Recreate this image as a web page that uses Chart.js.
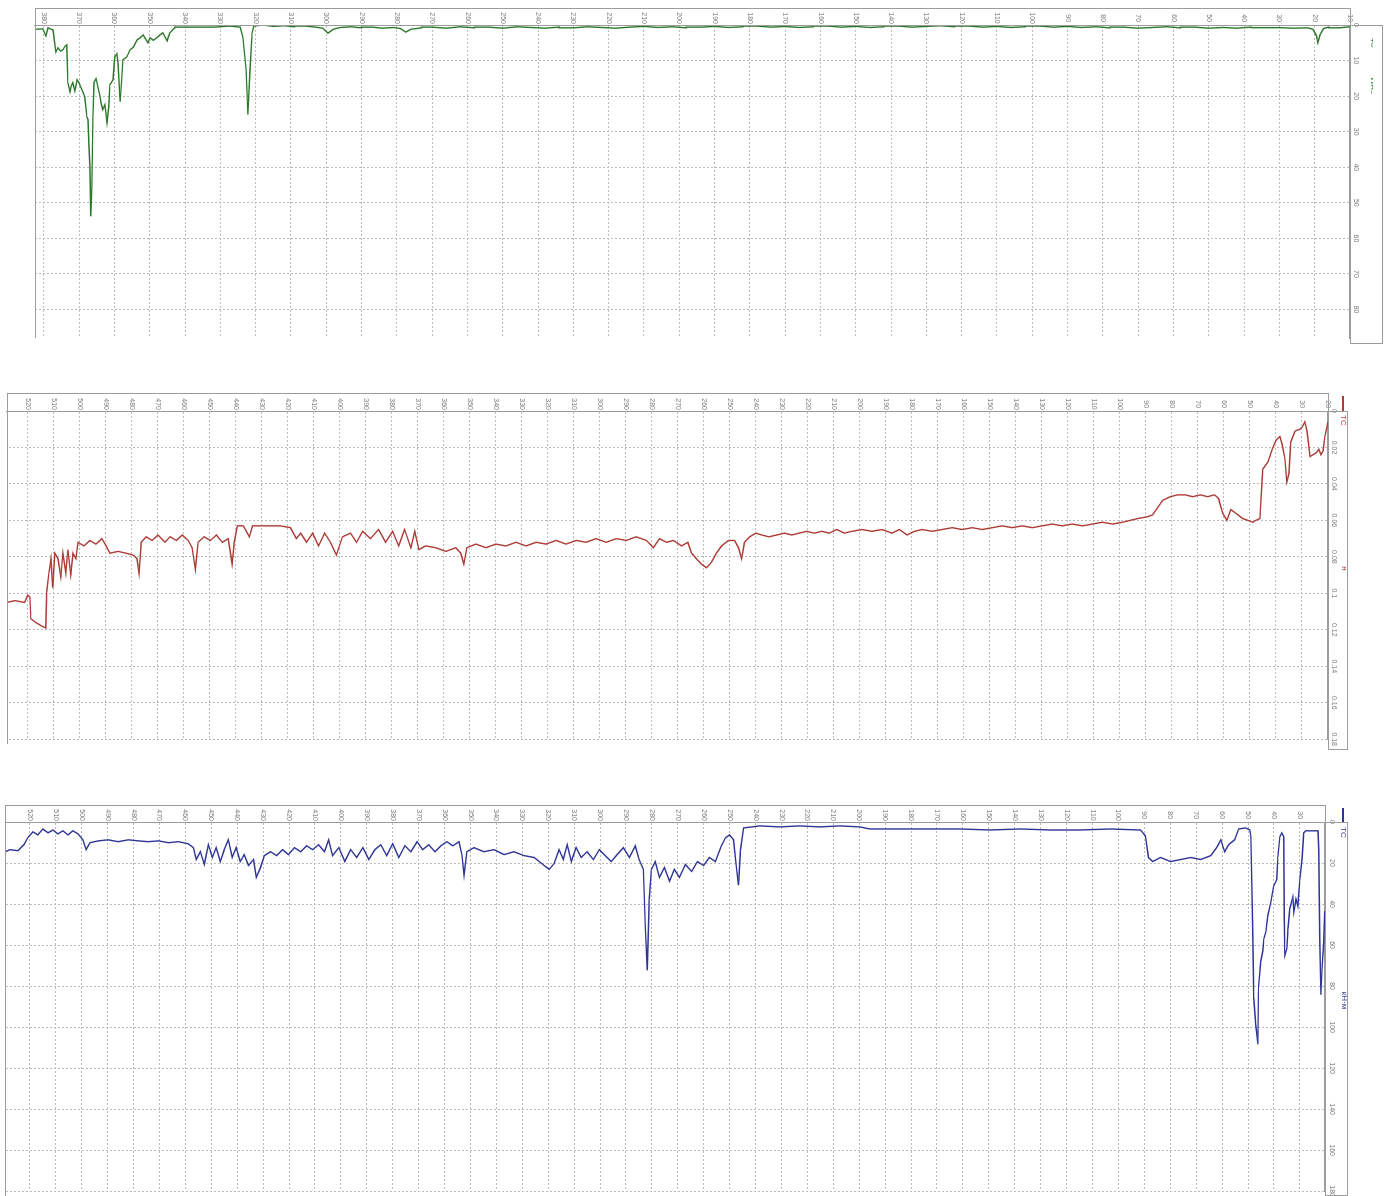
<!DOCTYPE html>
<html>
<head>
<meta charset="utf-8">
<title>Каротажные диаграммы</title>
<script src="https://cdn.jsdelivr.net/npm/chart.js@4.4.1/dist/chart.umd.min.js"></script>
<style>
  html, body { margin: 0; padding: 0; background: #fff; }
  body { width: 1385px; height: 1196px; position: relative; overflow: hidden; }
  .track { position: absolute; overflow: visible; }
  .rot { position: absolute; left: 0; top: 0; transform-origin: 0 0; }
  .frame { position: absolute; border: 1px solid #9c9c9c; box-sizing: border-box; pointer-events: none; }
  .vline { position: absolute; width: 1px; background: #9c9c9c; pointer-events: none; }
</style>
</head>
<body>
<script>
// Track 1 (ТК, МПа): depth in metres and reading
const tkDepth = [382.5, 380.3, 379.4, 378.8, 377.4, 376.6, 376.0, 375.3, 374.6, 374.0, 373.5, 373.2, 372.6, 372.2, 371.8, 371.2, 370.6, 370.1, 369.2, 368.4, 367.8, 367.5, 367.2, 366.9, 366.7, 366.4, 366.1, 365.8, 365.2, 364.7, 364.2, 363.8, 363.3, 362.7, 362.1, 361.6, 361.3, 360.4, 359.9, 359.3, 359.0, 358.4, 357.9, 357.6, 356.5, 355.6, 354.6, 353.6, 352.7, 351.9, 350.5, 349.9, 349.0, 348.0, 347.1, 346.3, 345.1, 344.3, 342.9, 340.6, 336.6, 332.1, 327.3, 324.4, 323.6, 322.7, 322.2, 321.6, 321.0, 320.5, 317.9,
  315, 312, 309, 306, 303, 301, 299.5, 298, 296, 293, 290, 287, 284, 281, 279, 277.5, 276, 273, 270, 266, 262, 258, 254, 250, 246, 242, 238, 234, 230, 226, 222, 218, 214, 210, 206, 202, 198, 194, 190, 186, 182, 178, 174, 170, 166, 162, 158, 154, 150, 146, 142, 138, 134, 130, 126, 122, 118, 114, 110, 106, 102, 98, 94, 90, 86, 82, 78, 74, 70, 66, 62, 58, 54, 50, 46, 42, 38, 34, 30, 26, 22, 20.5, 19.5, 19.1, 18.5, 17.5, 16, 13, 10];
const tkValue = [1.2, 1.1, 3.1, 0.8, 1.4, 7.6, 6.4, 7.3, 7.0, 6.0, 5.6, 16.2, 18.8, 17.0, 16.2, 18.5, 15.4, 16.2, 18.2, 20.2, 25.8, 26.6, 34.2, 40.6, 53.8, 45.4, 26.6, 16.2, 15.1, 17.4, 19.5, 21.8, 23.8, 22.4, 27.5, 23.0, 16.8, 15.4, 9.0, 8.1, 10.6, 21.6, 14.6, 9.8, 9.0, 7.0, 6.2, 4.2, 3.6, 2.8, 5.0, 3.6, 4.3, 3.6, 2.8, 2.2, 4.5, 2.2, 0.8, 0.6, 0.6, 0.6, 0.3, 0.6, 3.4, 12.6, 25.2, 12.6, 2.2, 0.3, 0.0,
  0.4, 0.2, 0.5, 0.3, 0.6, 0.9, 2.3, 1.2, 0.7, 0.5, 0.8, 0.6, 0.9, 0.7, 1.0, 2.0, 1.2, 0.8, 0.6, 0.9, 0.5, 0.8, 0.6, 0.9, 0.5, 0.7, 0.9, 0.6, 0.8, 0.5, 0.7, 0.9, 0.6, 0.4, 0.7, 0.5, 0.8, 0.6, 0.4, 0.7, 0.5, 0.3, 0.6, 0.4, 0.7, 0.5, 0.3, 0.6, 0.4, 0.7, 0.5, 0.3, 0.6, 0.4, 0.2, 0.5, 0.3, 0.6, 0.4, 0.7, 0.5, 0.3, 0.6, 0.4, 0.7, 0.5, 0.8, 0.6, 0.9, 0.7, 0.5, 0.8, 0.6, 0.9, 0.7, 0.9, 0.6, 0.8, 0.7, 0.9, 0.8, 1.2, 3.0, 5.0, 2.8, 1.0, 0.6, 0.8, 0.5];

// Track 2 (ТС): depth in metres and reading
const tsDepth = [528.0, 525.0, 521.2, 520.0, 519.2, 518.8, 516.9, 514.6, 513.1, 512.7, 511.9, 511.1, 510.4, 509.6, 508.4, 507.3, 506.5, 505.4, 504.6, 503.5, 502.6, 501.5, 500.7, 498.4, 496.1, 493.8, 491.5, 489.9, 488.4, 485.3, 482.2, 479.5, 478.0, 477.2, 476.4, 474.5, 472.2, 469.9, 467.2, 465.3, 462.9, 460.6, 458.3, 456.8, 455.6, 454.5, 452.2, 449.8, 447.5, 445.2, 442.9, 441.4, 440.6, 439.4, 437.1, 434.8, 433.6, 430.6, 426.7, 422.9, 419.0, 416.7, 415.1, 412.8, 410.5, 408.2, 405.9, 403.6, 401.3, 399.0, 395.9, 393.6, 391.2, 388.2, 385.1, 382.4, 379.7, 377.4, 375.1, 372.7, 371.2, 369.6, 367.0, 363.1, 359.2, 355.4, 353.5, 352.3, 351.2, 347.7, 343.8, 340.0, 336.1, 332.3, 328.4, 324.5, 320.7, 316.8, 313.0, 309.1, 305.3, 301.4, 297.6, 293.7, 289.9, 286.0, 282.1, 279.4, 277.1, 274.4, 271.7, 268.6, 266.2, 264.7, 262.9, 260.9, 259.0, 257.1, 255.2, 253.2, 250.5, 248.2, 246.7, 245.5, 244.4, 242.4, 240.0, 237.8, 235.0, 232.0, 229.0, 226.2, 223.4, 220.5, 217.5, 214.7, 211.8, 208.9, 206.0, 203.1, 199.2, 195.4, 191.5, 187.7, 184.8, 181.9, 179.0, 176.1, 172.2, 168.4, 164.5, 160.7, 156.8, 153.0, 149.1, 145.3, 141.4, 137.6, 133.7, 129.9, 126.0, 122.2, 118.3, 114.4, 110.5, 106.7, 102.8, 99.0, 96.1, 93.2, 89.4, 87.5, 83.6, 80.7, 77.8, 74.9, 72.0, 69.1, 66.3, 63.6, 62.1, 60.5, 58.9, 57.4, 55.5, 52.8, 50.8, 48.9, 47.8, 46.2, 45.1, 43.1, 41.2, 40.0, 38.5, 37.7, 36.6, 35.8, 35.0, 34.3, 32.7, 30.8, 30.0, 28.9, 28.1, 26.9, 25.8, 24.6, 23.5, 22.7, 21.9, 21.2, 20.0];
const tsValue = [0.105, 0.104, 0.105, 0.101, 0.102, 0.114, 0.116, 0.118, 0.119, 0.099, 0.089, 0.081, 0.097, 0.078, 0.081, 0.091, 0.078, 0.089, 0.076, 0.090, 0.078, 0.081, 0.072, 0.074, 0.071, 0.073, 0.070, 0.074, 0.078, 0.077, 0.078, 0.079, 0.081, 0.089, 0.072, 0.069, 0.071, 0.068, 0.072, 0.069, 0.071, 0.068, 0.071, 0.075, 0.087, 0.072, 0.069, 0.071, 0.068, 0.072, 0.070, 0.084, 0.072, 0.063, 0.063, 0.069, 0.063, 0.063, 0.063, 0.063, 0.064, 0.070, 0.067, 0.072, 0.067, 0.074, 0.067, 0.072, 0.079, 0.069, 0.067, 0.072, 0.066, 0.070, 0.065, 0.072, 0.066, 0.074, 0.065, 0.075, 0.066, 0.076, 0.074, 0.075, 0.077, 0.075, 0.078, 0.084, 0.075, 0.073, 0.075, 0.073, 0.074, 0.072, 0.074, 0.072, 0.073, 0.071, 0.073, 0.071, 0.072, 0.070, 0.072, 0.070, 0.071, 0.069, 0.071, 0.075, 0.070, 0.072, 0.071, 0.074, 0.072, 0.078, 0.081, 0.084, 0.086, 0.083, 0.078, 0.074, 0.071, 0.071, 0.075, 0.081, 0.072, 0.069, 0.067, 0.068, 0.069, 0.068, 0.067, 0.068, 0.067, 0.066, 0.067, 0.066, 0.067, 0.065, 0.067, 0.066, 0.065, 0.066, 0.065, 0.067, 0.065, 0.068, 0.066, 0.065, 0.066, 0.065, 0.064, 0.065, 0.064, 0.065, 0.064, 0.063, 0.064, 0.063, 0.064, 0.063, 0.062, 0.063, 0.062, 0.063, 0.062, 0.061, 0.062, 0.061, 0.060, 0.059, 0.058, 0.057, 0.049, 0.047, 0.046, 0.046, 0.047, 0.046, 0.047, 0.046, 0.048, 0.056, 0.060, 0.054, 0.056, 0.059, 0.060, 0.061, 0.060, 0.059, 0.032, 0.028, 0.020, 0.016, 0.014, 0.018, 0.026, 0.039, 0.034, 0.017, 0.011, 0.010, 0.009, 0.006, 0.011, 0.025, 0.024, 0.023, 0.021, 0.024, 0.022, 0.014, 0.006, 0.001];

// Track 3 (ТС, кН·м): depth in metres and reading
const tmDepth = [529.4, 527.7, 524.6, 522.3, 520.8, 518.8, 516.9, 515.0, 513.0, 511.1, 509.2, 507.2, 505.3, 503.4, 501.4, 499.5, 498.3, 496.8, 493.6, 489.8, 485.9, 482.0, 478.2, 474.3, 470.4, 466.6, 462.7, 458.9, 456.9, 455.8, 454.2, 452.7, 451.1, 449.6, 448.1, 446.5, 445.0, 443.4, 441.9, 440.4, 438.8, 437.3, 435.6, 433.7, 432.6, 431.0, 429.5, 427.1, 424.8, 422.5, 420.2, 417.9, 415.5, 413.2, 410.9, 408.6, 406.3, 404.7, 403.2, 400.8, 398.5, 396.2, 393.9, 391.5, 389.2, 386.9, 384.6, 382.3, 380.0, 377.6, 375.3, 373.0, 370.6, 368.4, 366.1, 363.7, 361.4, 359.1, 356.8, 354.4, 353.3, 352.5, 351.4, 348.6, 344.8, 340.9, 337.0, 333.2, 329.3, 325.4, 321.6, 319.6, 317.7, 315.8, 314.2, 312.7, 311.1, 309.2, 307.3, 305.0, 302.6, 300.3, 298.0, 295.7, 293.4, 291.0, 288.7, 286.4, 284.9, 283.3, 282.5, 281.8, 281.0, 280.2, 278.7, 277.1, 275.2, 273.2, 271.3, 269.4, 267.1, 264.7, 262.4, 260.1, 257.8, 255.5, 253.2, 251.6, 250.0, 248.5, 247.3, 246.6, 245.8, 244.6, 238.4, 230.7, 223.0, 215.2, 207.5, 199.8, 195.9, 184.3, 172.7, 161.1, 149.5, 137.9, 126.3, 114.7, 103.1, 91.5, 89.6, 88.4, 86.8, 83.8, 79.9, 76.0, 72.1, 68.3, 64.4, 62.1, 60.5, 59.0, 57.5, 55.2, 53.6, 50.9, 49.3, 48.9, 48.2, 47.8, 47.0, 46.2, 46.0, 45.9, 45.1, 44.3, 43.9, 43.1, 42.4, 41.2, 40.1, 38.9, 38.5, 37.7, 37.0, 36.2, 36.0, 35.8, 35.0, 34.6, 33.9, 32.7, 32.3, 31.5, 30.8, 30.0, 29.2, 28.5, 27.7, 23.0, 22.7, 22.3, 21.9, 21.5, 20.8, 20.4];
const tmValue = [14.5, 13.5, 14.0, 11.1, 7.7, 4.8, 6.3, 3.4, 5.3, 3.9, 5.8, 4.3, 6.3, 4.3, 5.8, 8.7, 13.5, 10.1, 9.2, 8.7, 9.6, 8.7, 9.2, 9.6, 9.2, 10.1, 9.6, 10.6, 12.5, 18.3, 14.5, 20.7, 11.1, 17.3, 12.5, 19.3, 13.5, 8.7, 17.3, 12.5, 19.3, 15.9, 21.2, 18.3, 27.0, 22.2, 16.4, 14.5, 16.4, 13.5, 15.9, 12.5, 14.5, 11.6, 13.5, 11.1, 14.5, 8.7, 16.4, 12.5, 19.3, 13.5, 17.3, 12.5, 18.3, 13.5, 11.1, 16.4, 10.6, 17.3, 11.6, 14.5, 9.6, 13.5, 11.1, 14.5, 11.6, 9.6, 11.6, 9.6, 15.9, 26.0, 14.5, 12.5, 14.5, 13.5, 15.9, 14.5, 16.4, 17.3, 21.2, 23.1, 20.2, 13.5, 18.3, 11.1, 19.3, 12.5, 17.3, 14.5, 18.3, 13.5, 16.4, 19.3, 15.9, 12.5, 17.3, 11.6, 18.3, 23.1, 52.0, 72.3, 37.6, 23.1, 19.3, 27.0, 22.2, 28.9, 23.1, 27.0, 20.7, 24.1, 19.3, 21.2, 17.3, 19.3, 11.6, 7.7, 6.3, 8.7, 23.1, 30.8, 13.5, 2.9, 1.9, 2.4, 1.9, 2.4, 1.9, 2.4, 3.4, 3.4, 3.4, 3.4, 3.9, 3.4, 3.9, 3.9, 3.4, 3.9, 6.7, 17.3, 19.3, 17.3, 19.3, 18.3, 17.3, 18.3, 16.4, 12.5, 8.7, 14.5, 11.1, 8.7, 3.4, 2.9, 3.9, 7.2, 53.5, 85.8, 98.8, 108.4, 85.8, 80.0, 68.0, 63.1, 56.9, 53.5, 45.8, 39.0, 31.3, 28.0, 16.9, 7.2, 5.3, 7.2, 45.8, 65.1, 61.7, 52.0, 42.4, 36.6, 43.9, 37.6, 41.0, 28.0, 18.3, 5.3, 4.3, 4.3, 13.5, 56.9, 84.3, 72.8, 58.3, 43.4];

Chart.defaults.font.family = '"Liberation Sans", "DejaVu Sans", sans-serif';
Chart.defaults.color = '#777';

const GRID = '#bcbcbc';
const EDGE = '#9c9c9c';

// layout of each track on the page (left/top/width/height of its box, plot edges)
const tracks = [
  {
    depth: tkDepth, value: tkValue, label: 'ТК', color: '#2b7a2b',
    depthMin: 10, depthMax: 382.5, valueMax: 88, valueStep: 10,
    legendUnit: 'МПа', titleUnit: '',
    L: 0, T: 0, W: 1385, H: 347,
    chartTop: 35, bandTop: 8, bandW: 17, padRight: 9, padBottom: 35,
    legendPad: 11, legendMax: 14, tickPad: 2, titlePad: 0
  },
  {
    depth: tsDepth, value: tsValue, label: 'ТС', color: '#ad3b36',
    depthMin: 20, depthMax: 528, valueMax: 0.18, valueStep: 0.02,
    legendUnit: '', titleUnit: 'н',
    L: 0, T: 390, W: 1350, H: 358,
    chartTop: 22, bandTop: 3, bandW: 18, padRight: 4, padBottom: 7,
    legendPad: 3, legendMax: 9, tickPad: 2, titlePad: 1.2
  },
  {
    depth: tmDepth, value: tmValue, label: 'ТС', color: '#2e3596',
    depthMin: 20.3, depthMax: 529.5, valueMax: 180, valueStep: 20,
    legendUnit: '', titleUnit: 'кН·м',
    L: 0, T: 800, W: 1350, H: 400,
    chartTop: 25, bandTop: 5, bandW: 17, padRight: 4, padBottom: 5,
    legendPad: 3, legendMax: 9, tickPad: 3, titlePad: 1.2
  }
];

function frame(x, y, w, h) {
  const d = document.createElement('div');
  d.className = 'frame';
  d.style.left = x + 'px'; d.style.top = y + 'px';
  d.style.width = w + 'px'; d.style.height = h + 'px';
  document.body.appendChild(d);
}
function vline(x, y, h) {
  const d = document.createElement('div');
  d.className = 'vline';
  d.style.left = x + 'px'; d.style.top = y + 'px'; d.style.height = h + 'px';
  document.body.appendChild(d);
}

// plain number text without padded zeros (0.1 rather than 0.10)
function plainNumber(v) {
  return String(Number(v.toFixed(4)));
}

function buildTrack(cfg) {
  // the log is laid out depth-down and then turned a quarter turn clockwise
  const wrap = document.createElement('div');
  wrap.className = 'track';
  wrap.style.left = cfg.L + 'px'; wrap.style.top = cfg.T + 'px';
  wrap.style.width = cfg.W + 'px'; wrap.style.height = cfg.H + 'px';
  const rot = document.createElement('div');
  rot.className = 'rot';
  rot.style.width = cfg.H + 'px'; rot.style.height = cfg.W + 'px';
  rot.style.transform = 'translate(' + cfg.W + 'px,0) rotate(90deg)';
  const cv = document.createElement('canvas');
  cv.width = cfg.H; cv.height = cfg.W;
  cv.style.width = cfg.H + 'px'; cv.style.height = cfg.W + 'px';
  rot.appendChild(cv); wrap.appendChild(rot); document.body.appendChild(wrap);

  const points = cfg.depth.map((d, i) => ({ x: cfg.value[i], y: d }));

  new Chart(cv, {
    type: 'scatter',
    data: {
      datasets: [{
        label: cfg.label,
        data: points,
        showLine: true,
        borderColor: cfg.color,
        backgroundColor: cfg.color,
        borderWidth: 1.4,
        pointRadius: 0,
        pointHoverRadius: 0,
        tension: 0
      }]
    },
    options: {
      responsive: false,
      animation: false,
      devicePixelRatio: 1,
      events: [],
      layout: { padding: { left: cfg.bandTop, right: cfg.padRight, top: 0, bottom: cfg.padBottom } },
      plugins: {
        tooltip: { enabled: false },
        title: {
          display: !!cfg.titleUnit,
          text: cfg.titleUnit,
          align: 'center',
          color: cfg.color,
          font: { size: 8, weight: 'normal' },
          padding: { top: cfg.titlePad, bottom: -(9.6 + cfg.titlePad) }
        },
        legend: {
          display: true,
          position: 'top',
          align: 'start',
          maxHeight: cfg.legendMax,
          labels: {
            boxWidth: 15,
            boxHeight: 2,
            padding: cfg.legendPad,
            font: { size: 8 },
            generateLabels(chart) {
              const items = Chart.defaults.plugins.legend.labels.generateLabels(chart);
              items.forEach(it => { it.lineWidth = 0; it.fontColor = cfg.color; });
              if (cfg.legendUnit) {
                items.push({ text: cfg.legendUnit, fillStyle: 'rgba(0,0,0,0)', strokeStyle: 'rgba(0,0,0,0)',
                             lineWidth: 0, hidden: false, fontColor: cfg.color, datasetIndex: 0 });
              }
              return items;
            }
          }
        }
      },
      scales: {
        x: {
          type: 'linear',
          position: 'top',
          min: 0,
          max: cfg.valueMax,
          ticks: { stepSize: cfg.valueStep, includeBounds: false, maxRotation: 0, padding: cfg.tickPad,
                   font: { size: 7 }, color: '#7a7a7a', callback: plainNumber },
          grid: { color: GRID, lineWidth: 1, drawTicks: false },
          border: { display: true, color: EDGE, width: 1, dash: [2, 2] },
          afterFit(s) {
            const lg = s.chart.legend ? s.chart.legend.height : 0;
            s.height = Math.max(0, cfg.chartTop - lg);
          }
        },
        y: {
          type: 'linear',
          position: 'left',
          reverse: true,
          min: cfg.depthMin,
          max: cfg.depthMax,
          ticks: { stepSize: 10, includeBounds: false, crossAlign: 'center', padding: 1,
                   font: { size: 7 }, color: '#7a7a7a', callback: plainNumber },
          grid: { color: GRID, lineWidth: 1, drawTicks: false },
          border: { display: true, color: EDGE, width: 1, dash: [2, 2] },
          afterFit(s) { s.width = cfg.bandW; }
        }
      }
    }
  });

  // outlines of the depth strip, the scale column and the left edge
  const plotLeft = cfg.L + cfg.padBottom;
  const plotRight = cfg.L + cfg.W - cfg.chartTop;
  const bandY = cfg.T + cfg.bandTop;
  const plotTop = bandY + cfg.bandW;
  const plotBottom = cfg.T + cfg.H - cfg.padRight;
  frame(plotLeft, bandY, plotRight - plotLeft + 1, cfg.bandW + 1);
  vline(plotLeft, bandY, plotBottom - bandY);
  frame(plotRight, plotTop, cfg.L + cfg.W - plotRight - 2, Math.min(1196, plotBottom + 6) - plotTop);
}

tracks.forEach(buildTrack);
</script>
</body>
</html>
